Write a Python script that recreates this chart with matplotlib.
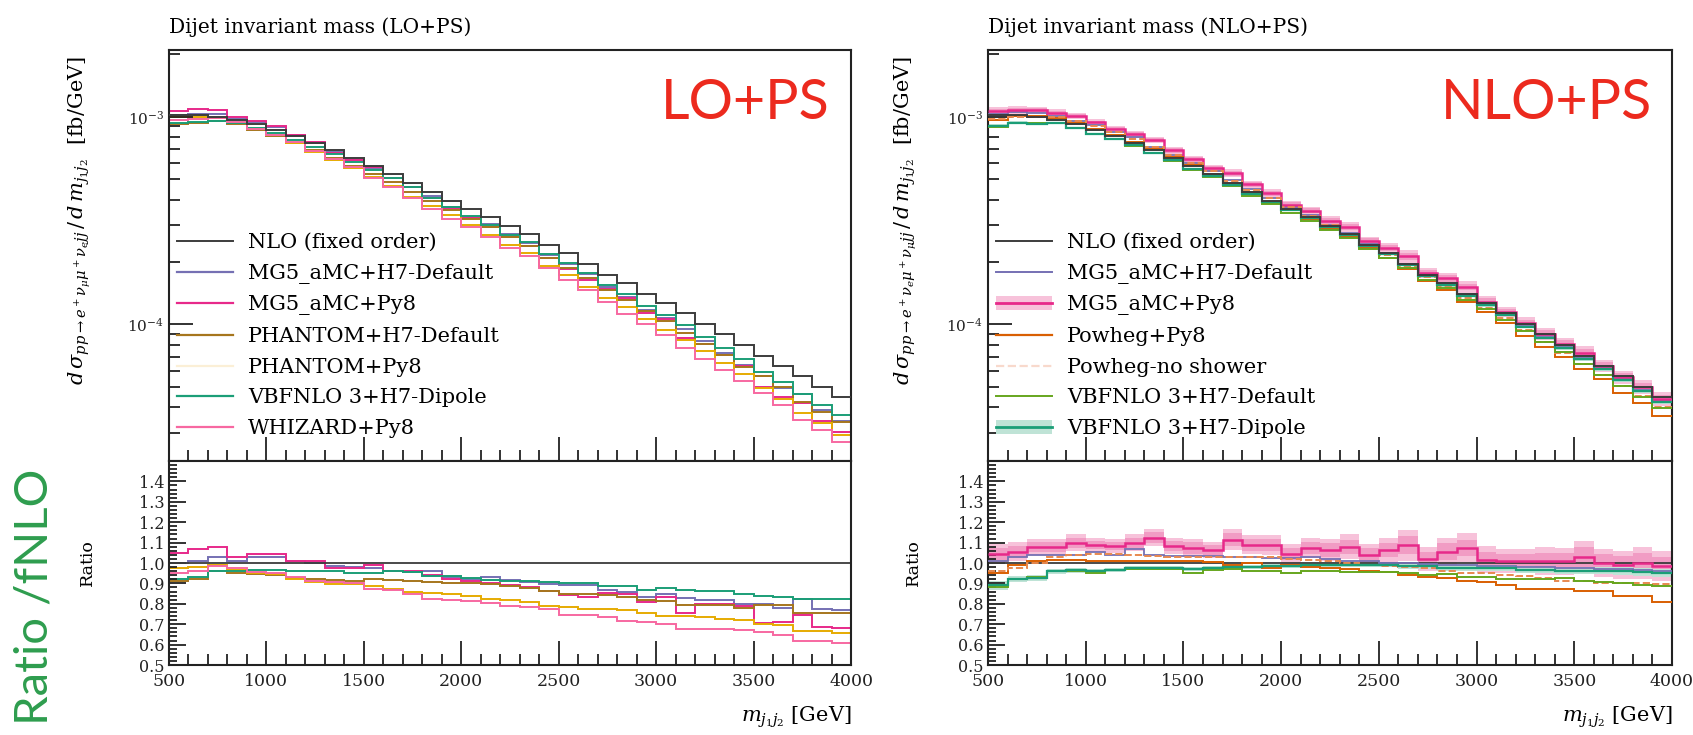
import numpy as np
import matplotlib.pyplot as plt
from matplotlib.lines import Line2D
from matplotlib.patches import Patch
from matplotlib.ticker import MultipleLocator, FixedLocator, LogLocator, NullFormatter, FixedFormatter

plt.rcParams['font.family'] = ['DejaVu Serif']
plt.rcParams['mathtext.fontset'] = 'dejavuserif'

edges = np.arange(500, 4001, 100)

# NLO fixed order, d sigma / d m_j1j2 [fb/GeV]
nlo = [1.02e-3, 1.02e-3, 1.0e-3, 0.97e-3, 0.92e-3, 0.865e-3, 0.81e-3, 0.75e-3, 0.69e-3, 0.635e-3,
       0.58e-3, 0.53e-3, 0.48e-3, 0.435e-3, 0.395e-3, 0.36e-3, 0.328e-3, 0.297e-3, 0.272e-3, 0.242e-3,
       0.22e-3, 0.196e-3, 0.174e-3, 0.158e-3, 0.141e-3, 0.127e-3, 0.114e-3, 0.101e-3, 0.0895e-3, 0.080e-3,
       0.0708e-3, 0.0633e-3, 0.0562e-3, 0.050e-3, 0.0446e-3]

# LO+PS, ratio to NLO
lo_mg5_h7 = [1.0, 1.01, 1.027, 1.01, 1.03, 1.03, 1.008, 1.0, 0.985, 0.98, 0.975, 0.96, 0.955, 0.96, 0.93,
             0.92, 0.93, 0.915, 0.905, 0.895, 0.89, 0.89, 0.87, 0.86, 0.833, 0.85, 0.83, 0.82, 0.817, 0.80,
             0.80, 0.78, 0.822, 0.775, 0.77]
lo_mg5_py8 = [1.05, 1.067, 1.08, 1.03, 1.043, 1.043, 1.01, 1.01, 0.975, 0.975, 0.99, 0.96, 0.96, 0.94, 0.92,
              0.91, 0.90, 0.89, 0.88, 0.862, 0.845, 0.835, 0.855, 0.85, 0.81, 0.833, 0.757, 0.80, 0.80, 0.79,
              0.706, 0.71, 0.746, 0.686, 0.68]
lo_phantom_h7 = [0.91, 0.92, 0.96, 0.95, 0.945, 0.94, 0.925, 0.92, 0.915, 0.91, 0.92, 0.915, 0.91, 0.905, 0.90,
                 0.90, 0.895, 0.885, 0.876, 0.865, 0.85, 0.85, 0.845, 0.835, 0.82, 0.815, 0.794, 0.794, 0.794,
                 0.78, 0.794, 0.794, 0.757, 0.757, 0.757]
lo_phantom_py8 = [0.975, 0.98, 0.99, 0.965, 0.95, 0.945, 0.92, 0.905, 0.897, 0.895, 0.885, 0.873, 0.857, 0.855,
                  0.85, 0.836, 0.825, 0.817, 0.81, 0.79, 0.785, 0.773, 0.775, 0.77, 0.757, 0.74, 0.74, 0.735,
                  0.725, 0.722, 0.70, 0.695, 0.667, 0.667, 0.655]
lo_vbfnlo_dipole = [0.92, 0.93, 0.96, 0.96, 0.965, 0.965, 0.96, 0.96, 0.96, 0.952, 0.952, 0.96, 0.955, 0.937,
                    0.935, 0.925, 0.915, 0.913, 0.913, 0.905, 0.90, 0.90, 0.886, 0.886, 0.87, 0.876, 0.87, 0.862,
                    0.862, 0.85, 0.836, 0.835, 0.822, 0.822, 0.822]
lo_whizard = [0.95, 0.96, 0.985, 0.975, 0.955, 0.95, 0.93, 0.913, 0.905, 0.90, 0.873, 0.87, 0.85, 0.825, 0.82,
              0.815, 0.805, 0.79, 0.785, 0.775, 0.746, 0.746, 0.735, 0.714, 0.712, 0.70, 0.675, 0.675, 0.675,
              0.67, 0.66, 0.646, 0.62, 0.62, 0.606]

# NLO+PS, ratio to NLO
nl_mg5_h7 = [1.01, 1.03, 1.04, 1.04, 1.04, 1.052, 1.04, 1.067, 1.04, 1.036, 1.036, 1.036, 1.03, 1.03, 1.025,
             1.025, 1.03, 1.02, 1.01, 1.01, 1.0, 1.0, 0.995, 0.99, 0.99, 0.985, 0.985, 0.98, 0.98, 0.975,
             0.975, 0.97, 0.97, 0.965, 0.96]
nl_mg5_py8 = [1.045, 1.056, 1.08, 1.08, 1.10, 1.09, 1.085, 1.10, 1.125, 1.085, 1.075, 1.065, 1.115, 1.09, 1.088,
              1.045, 1.075, 1.065, 1.08, 1.04, 1.065, 1.087, 1.02, 1.056, 1.075, 1.016, 1.01, 1.01, 1.01, 1.008,
              1.03, 1.0, 0.99, 1.0, 0.985]
nl_mg5_py8_err_in = [0.03, 0.025, 0.025, 0.025, 0.025, 0.02, 0.02, 0.025, 0.025, 0.025, 0.03, 0.025, 0.03, 0.03,
                     0.03, 0.03, 0.03, 0.035, 0.035, 0.035, 0.035, 0.045, 0.035, 0.04, 0.04, 0.04, 0.035, 0.035,
                     0.04, 0.04, 0.05, 0.045, 0.045, 0.05, 0.045]
nl_mg5_py8_err_out = [0.05, 0.045, 0.04, 0.04, 0.04, 0.035, 0.035, 0.04, 0.04, 0.04, 0.045, 0.04, 0.05, 0.045,
                      0.05, 0.05, 0.05, 0.055, 0.06, 0.055, 0.06, 0.075, 0.06, 0.065, 0.07, 0.065, 0.06, 0.06,
                      0.07, 0.065, 0.08, 0.07, 0.07, 0.08, 0.075]
nl_powheg_py8 = [0.952, 0.99, 1.008, 1.016, 1.016, 1.01, 1.01, 1.01, 1.01, 1.01, 1.01, 1.005, 0.99, 1.0, 0.975,
                 0.99, 0.98, 0.975, 0.97, 0.96, 0.955, 0.94, 0.93, 0.925, 0.913, 0.905, 0.89, 0.873, 0.873,
                 0.873, 0.865, 0.865, 0.836, 0.836, 0.81]
nl_powheg_noshower = [0.96, 0.975, 1.0, 1.03, 1.04, 1.045, 1.045, 1.04, 1.035, 1.03, 1.03, 1.03, 1.027, 1.027,
                      1.027, 1.02, 1.015, 1.01, 1.0, 0.99, 0.985, 0.98, 0.975, 0.96, 0.95, 0.95, 0.94, 0.935,
                      0.925, 0.913, 0.913, 0.90, 0.90, 0.90, 0.895]
nl_vbfnlo_default = [0.88, 0.92, 0.93, 0.96, 0.96, 0.952, 0.965, 0.97, 0.973, 0.97, 0.952, 0.968, 0.97, 0.96,
                     0.96, 0.952, 0.96, 0.96, 0.957, 0.957, 0.955, 0.95, 0.94, 0.945, 0.93, 0.93, 0.92, 0.92,
                     0.92, 0.925, 0.913, 0.905, 0.90, 0.894, 0.885]
nl_vbfnlo_dipole = [0.89, 0.92, 0.925, 0.96, 0.965, 0.96, 0.965, 0.975, 0.975, 0.975, 0.97, 0.975, 0.98, 0.98,
                    0.985, 0.985, 0.99, 0.99, 0.99, 0.99, 0.99, 0.985, 0.985, 0.976, 0.976, 0.976, 0.976, 0.968,
                    0.965, 0.963, 0.963, 0.963, 0.96, 0.955, 0.952]
nl_vbfnlo_dipole_err = [0.02, 0.015, 0.015, 0.012, 0.012, 0.01, 0.01, 0.01, 0.01, 0.01, 0.01, 0.01, 0.01, 0.01,
                        0.01, 0.01, 0.01, 0.012, 0.012, 0.012, 0.012, 0.012, 0.015, 0.015, 0.015, 0.015, 0.015,
                        0.015, 0.015, 0.018, 0.018, 0.018, 0.02, 0.02, 0.02]

C_NLO = '#3c3c3c'
C_MG5H7 = '#7570b3'
C_MG5PY8 = '#e7298a'
C_PHH7 = '#a6761d'
C_PHPY8 = '#e6ab02'
C_VBFDIP = '#1b9e77'
C_WHIZ = '#f768a1'
C_POWPY8 = '#d95f02'
C_POWNS = '#e8894f'
C_VBFDEF = '#66a61e'

W, H = 1693, 735
fig = plt.figure(figsize=(W / 100, H / 100), dpi=100)

lx, lw = 169 / W, 682 / W
rx, rw = 988 / W, 684 / W
mb, mh = 1 - 461 / H, (461 - 50) / H
rb, rh = 1 - 665 / H, (665 - 461) / H

axL = fig.add_axes([lx, mb, lw, mh])
axLr = fig.add_axes([lx, rb, lw, rh])
axR = fig.add_axes([rx, mb, rw, mh])
axRr = fig.add_axes([rx, rb, rw, rh])

nlo_a = np.array(nlo)


def style(ax, ax_r, ylab, lab_x):
    for a in (ax, ax_r):
        a.set_xlim(500, 4000)
        for s in a.spines.values():
            s.set_linewidth(1.5)
            s.set_color('#222222')
        a.xaxis.set_major_locator(MultipleLocator(500))
        a.xaxis.set_minor_locator(MultipleLocator(100))
        a.tick_params(which='both', direction='in', top=False, right=False, width=1.3, colors='#222222')
        a.tick_params(which='major', length=17)
        a.tick_params(which='minor', length=8)
    ax.set_yscale('log')
    ax.set_ylim(2.2e-5, 2.1e-3)
    ax.yaxis.set_major_locator(FixedLocator([1e-4, 1e-3]))
    ax.yaxis.set_major_formatter(FixedFormatter([r'$10^{-4}$', r'$10^{-3}$']))
    ax.yaxis.set_minor_locator(LogLocator(base=10, subs=np.arange(2, 10)))
    ax.yaxis.set_minor_formatter(NullFormatter())
    ax.tick_params(axis='x', labelbottom=False)
    ax.tick_params(axis='y', labelsize=11)
    ax.set_ylabel(ylab, fontsize=15)
    ax.yaxis.set_label_coords(lab_x, 0.586)

    ax_r.set_ylim(0.5, 1.5)
    ax_r.yaxis.set_major_locator(FixedLocator([0.5, 0.6, 0.7, 0.8, 0.9, 1.0, 1.1, 1.2, 1.3, 1.4]))
    ax_r.yaxis.set_minor_locator(MultipleLocator(0.02))
    ax_r.tick_params(axis='y', which='major', length=12, labelsize=11.5)
    ax_r.tick_params(axis='y', which='minor', length=6)
    ax_r.tick_params(axis='x', labelsize=12.5, pad=6)
    ax_r.axhline(1.0, color=C_NLO, lw=1.3)
    ax_r.set_ylabel('Ratio', fontsize=12.5)
    ax_r.yaxis.set_label_coords(lab_x + 0.004, 0.5)
    ax_r.set_xlabel(r'$m_{j_1 j_2}$ [GeV]', fontsize=15, loc='right', labelpad=10)


ylab_lo = r'$d\,\sigma_{pp\to e^+\nu_\mu\mu^+\nu_e jj}\,/\,d\,m_{j_1 j_2}$  [fb/GeV]'
ylab_nlo = r'$d\,\sigma_{pp\to e^+\nu_e\mu^+\nu_\mu jj}\,/\,d\,m_{j_1 j_2}$  [fb/GeV]'
style(axL, axLr, ylab_lo, -0.111)
style(axR, axRr, ylab_nlo, -0.101)

# ---- left: LO+PS
lo_series = [
    ('MG5_aMC+H7-Default', lo_mg5_h7, C_MG5H7, C_MG5H7),
    ('MG5_aMC+Py8', lo_mg5_py8, C_MG5PY8, C_MG5PY8),
    ('PHANTOM+H7-Default', lo_phantom_h7, C_PHH7, C_PHH7),
    ('PHANTOM+Py8', lo_phantom_py8, C_PHPY8, '#fbefd6'),
    ('VBFNLO 3+H7-Dipole', lo_vbfnlo_dipole, C_VBFDIP, C_VBFDIP),
    ('WHIZARD+Py8', lo_whizard, C_WHIZ, C_WHIZ),
]
axL.stairs(nlo_a, edges, baseline=None, color=C_NLO, lw=1.4, zorder=5)
handles = [Line2D([], [], color=C_NLO, lw=1.4)]
labels = ['NLO (fixed order)']
for name, r, c, lc in lo_series:
    axL.stairs(nlo_a * np.array(r), edges, baseline=None, color=c, lw=1.4)
    axLr.stairs(r, edges, baseline=None, color=c, lw=1.4)
    handles.append(Line2D([], [], color=lc, lw=1.6))
    labels.append(name)
axL.legend(handles, labels, loc='center left', bbox_to_anchor=(0.012, 0.305), frameon=False,
           fontsize=15, handlelength=2.7, handletextpad=0.7, labelspacing=0.56, borderpad=0,
           borderaxespad=0)
axL.text(0.969, 0.869, 'LO+PS', transform=axL.transAxes, ha='right', va='center',
         fontsize=40, color='#ec2a1e', family=['Lato', 'DejaVu Sans'])
axL.set_title('Dijet invariant mass (LO+PS)', loc='left', fontsize=14.5, pad=12)

# ---- right: NLO+PS
nl_mg5_py8_a = np.array(nl_mg5_py8)
e_in = np.array(nl_mg5_py8_err_in)
e_out = np.array(nl_mg5_py8_err_out)
dip_a = np.array(nl_vbfnlo_dipole)
dip_e = np.array(nl_vbfnlo_dipole_err)

for ax, scale in ((axR, nlo_a), (axRr, 1.0)):
    ax.stairs(scale * (nl_mg5_py8_a + e_out), edges, baseline=scale * (nl_mg5_py8_a - e_out),
              fill=True, color='#f7c2da', lw=0, zorder=1)
    ax.stairs(scale * (nl_mg5_py8_a + e_in), edges, baseline=scale * (nl_mg5_py8_a - e_in),
              fill=True, color='#f19cc4', lw=0, zorder=1)
    ax.stairs(scale * (dip_a + dip_e), edges, baseline=scale * (dip_a - dip_e),
              fill=True, color='#bfe3d6', lw=0, zorder=1)

axR.stairs(nlo_a, edges, baseline=None, color=C_NLO, lw=1.4, zorder=5)
nl_series = [
    ('MG5_aMC+H7-Default', nl_mg5_h7, C_MG5H7, '-', 1.3),
    ('MG5_aMC+Py8', nl_mg5_py8, C_MG5PY8, '-', 1.8),
    ('Powheg+Py8', nl_powheg_py8, C_POWPY8, '-', 1.4),
    ('Powheg-no shower', nl_powheg_noshower, C_POWNS, '--', 1.4),
    ('VBFNLO 3+H7-Default', nl_vbfnlo_default, C_VBFDEF, '-', 1.4),
    ('VBFNLO 3+H7-Dipole', nl_vbfnlo_dipole, C_VBFDIP, '-', 1.6),
]
for name, r, c, ls, w in nl_series:
    axR.stairs(nlo_a * np.array(r), edges, baseline=None, color=c, lw=w, ls=ls, zorder=3)
    axRr.stairs(r, edges, baseline=None, color=c, lw=w, ls=ls, zorder=3)

handles = [
    Line2D([], [], color=C_NLO, lw=1.4),
    Line2D([], [], color=C_MG5H7, lw=1.4),
    (Patch(facecolor='#f7c2da', edgecolor='none'), Line2D([], [], color=C_MG5PY8, lw=2)),
    Line2D([], [], color=C_POWPY8, lw=1.6),
    Line2D([], [], color='#f8d9cc', lw=1.6, ls='--'),
    Line2D([], [], color=C_VBFDEF, lw=1.4),
    (Patch(facecolor='#bfe3d6', edgecolor='none'), Line2D([], [], color=C_VBFDIP, lw=2)),
]
labels = ['NLO (fixed order)'] + [s[0] for s in nl_series]
axR.legend(handles, labels, loc='center left', bbox_to_anchor=(0.012, 0.305), frameon=False,
           fontsize=15, handlelength=2.7, handletextpad=0.7, labelspacing=0.56, borderpad=0,
           borderaxespad=0)
axR.text(0.971, 0.869, 'NLO+PS', transform=axR.transAxes, ha='right', va='center',
         fontsize=40, color='#ec2a1e', family=['Lato', 'DejaVu Sans'])
axR.set_title('Dijet invariant mass (NLO+PS)', loc='left', fontsize=14.5, pad=12)

fig.text(35 / W, 1 - 597 / H, 'Ratio /fNLO', rotation=90, ha='center', va='center',
         fontsize=34, color='#2e9d4e', family=['Lato', 'DejaVu Sans'])

fig.savefig('out.png', dpi=100)
